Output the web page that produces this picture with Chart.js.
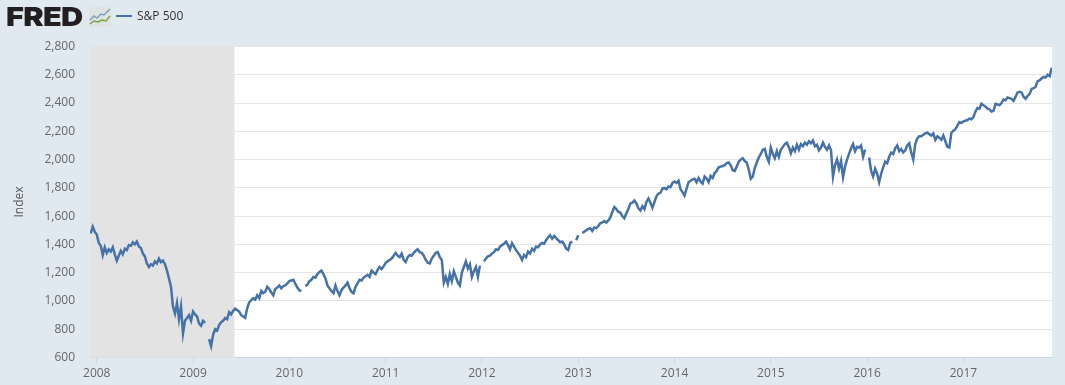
<!DOCTYPE html>
<html>
<head>
<meta charset="utf-8">
<title>S&amp;P 500</title>
<script src="https://cdn.jsdelivr.net/npm/chart.js@4"></script>
<style>
  html, body { margin: 0; padding: 0; background: #e1e9f0; overflow: hidden; }
  #wrap { position: relative; width: 1065px; height: 385px; }
  #logo { position: absolute; left: 6px; top: 1px; font: 900 26px/32px Inter, sans-serif; letter-spacing: -0.6px; color: #231f20; transform: scaleX(1.18); transform-origin: left center; }
  #icon { position: absolute; left: 89px; top: 7px; }
  #legendLine { position: absolute; left: 116px; top: 15px; width: 16px; height: 2px; background: #4572a7; }
  #legendText { position: absolute; left: 137px; top: 7px; font: 12px/18px "Open Sans", sans-serif; color: #333; }
</style>
</head>
<body>
<div id="wrap">
  <canvas id="grafico" width="1065" height="385"></canvas>
  <div id="logo">FRED</div>
  <svg id="icon" width="22" height="20" viewBox="0 0 22 20">
    <rect width="22" height="20" rx="2" fill="#dfe3e1"/>
    <polyline points="1,13 5,9 8,11 12,7 15,8 21,2" fill="none" stroke="#7e9fc0" stroke-width="1.5"/>
    <polyline points="1,17 5,14 9,15 13,13 17,14 21,9" fill="none" stroke="#7da24a" stroke-width="1.5"/>
  </svg>
  <div id="legendLine"></div>
  <div id="legendText">S&amp;P 500</div>
</div>
<script>
const serieNome = 'S&P 500';
const anoTicks = [2008, 2009, 2010, 2011, 2012, 2013, 2014, 2015, 2016, 2017];
const valorTicks = [600, 800, 1000, 1200, 1400, 1600, 1800, 2000, 2200, 2400, 2600, 2800];
const recessao = [2007.93, 2009.43];

// weekly-ish readings, 48 per year; null = hole in the line
const v2007 = [1478, 1525, 1490];
const v2008 = [1470, 1411, 1390, 1325, 1380, 1340, 1365, 1350, 1380, 1330, 1285, 1320, 1355, 1330, 1370, 1360, 1395, 1390, 1415, 1400, 1420, 1385, 1375, 1335, 1315, 1265, 1240, 1260, 1250, 1280, 1265, 1300, 1275, 1285, 1260, 1215, 1160, 1100, 960, 910, 985, 870, 960, 770, 860, 880, 900, 860];
const v2009 = [925, 905, 890, 840, 825, 860, 845, null, 730, 680, 760, 800, 790, 830, 850, 860, 880, 870, 920, 905, 930, 945, 935, 925, 900, 890, 880, 950, 990, 1005, 1020, 1010, 1040, 1020, 1070, 1055, 1065, 1100, 1085, 1060, 1040, 1085, 1095, 1110, 1090, 1105, 1110, 1125];
const v2010 = [1140, 1145, 1150, 1120, 1095, 1075, 1070, null, 1105, 1115, 1140, 1150, 1170, 1165, 1190, 1205, 1215, 1190, 1160, 1110, 1090, 1070, 1055, 1110, 1070, 1040, 1075, 1095, 1110, 1130, 1090, 1065, 1055, 1100, 1125, 1150, 1145, 1165, 1175, 1185, 1170, 1215, 1200, 1190, 1220, 1240, 1225, 1245];
const v2011 = [1270, 1280, 1290, 1300, 1320, 1340, 1320, 1310, 1335, 1290, 1275, 1310, 1325, 1320, 1340, 1355, 1365, 1345, 1340, 1320, 1290, 1270, 1265, 1300, 1320, 1340, 1345, 1310, 1290, 1130, 1170, 1120, 1190, 1140, 1210, 1170, 1130, 1110, 1200, 1240, 1280, 1230, 1260, 1170, 1210, 1240, 1170, 1250];
const v2012 = [null, 1280, 1300, 1315, 1320, 1335, 1345, 1365, 1360, 1385, 1395, 1405, 1420, 1395, 1365, 1410, 1385, 1360, 1340, 1320, 1290, 1325, 1310, 1350, 1335, 1370, 1355, 1385, 1380, 1400, 1410, 1405, 1430, 1450, 1465, 1440, 1460, 1445, 1430, 1415, 1420, 1400, 1370, 1360, 1410, 1420, null, 1430];
const v2013 = [1465, null, 1480, 1490, 1500, 1510, 1515, 1495, 1520, 1515, 1530, 1550, 1555, 1565, 1555, 1570, 1590, 1630, 1665, 1650, 1630, 1625, 1600, 1585, 1620, 1650, 1690, 1695, 1710, 1690, 1655, 1640, 1670, 1650, 1700, 1725, 1695, 1660, 1700, 1740, 1760, 1765, 1795, 1800, 1790, 1810, 1805, 1835];
const v2014 = [1845, 1835, 1850, 1790, 1770, 1745, 1795, 1840, 1850, 1860, 1865, 1840, 1870, 1845, 1830, 1880, 1865, 1840, 1885, 1870, 1905, 1920, 1945, 1950, 1955, 1960, 1975, 1980, 1960, 1925, 1920, 1950, 1985, 2000, 2010, 1990, 1980, 1930, 1865, 1880, 1940, 1980, 2015, 2040, 2070, 2075, 2020, 1985];
const v2015 = [2085, 2040, 2010, 2060, 2020, 2070, 2090, 2110, 2120, 2090, 2045, 2085, 2060, 2105, 2070, 2110, 2095, 2120, 2105, 2130, 2115, 2135, 2095, 2105, 2065, 2085, 2120, 2090, 2070, 2100, 2065, 1880, 1960, 2000, 1935, 1990, 1875, 1950, 2000, 2040, 2080, 2110, 2060, 2090, 2085, 2100, 2020, 2070];
const v2016 = [null, 2015, 1920, 1880, 1935, 1900, 1840, 1900, 1945, 1985, 1975, 2020, 2050, 2040, 2080, 2100, 2060, 2075, 2050, 2065, 2100, 2115, 2050, 2000, 2110, 2150, 2165, 2165, 2175, 2185, 2190, 2180, 2170, 2185, 2140, 2165, 2155, 2140, 2170, 2130, 2090, 2085, 2190, 2205, 2215, 2240, 2265, 2260];
const v2017 = [2270, 2275, 2280, 2290, 2285, 2300, 2340, 2365, 2360, 2395, 2385, 2375, 2360, 2355, 2340, 2345, 2395, 2390, 2385, 2400, 2425, 2420, 2440, 2435, 2430, 2415, 2445, 2475, 2480, 2475, 2445, 2430, 2450, 2465, 2500, 2505, 2515, 2555, 2560, 2575, 2585, 2580, 2600, 2590, 2650];

const anos = [[2007, v2007, 45], [2008, v2008, 0], [2009, v2009, 0], [2010, v2010, 0], [2011, v2011, 0], [2012, v2012, 0], [2013, v2013, 0], [2014, v2014, 0], [2015, v2015, 0], [2016, v2016, 0], [2017, v2017, 0]];

const pontos = [];
anos.forEach(([ano, valores, inicio]) => {
  valores.forEach((v, i) => pontos.push({ x: ano + (inicio + i) / 48, y: v }));
});

const fundoPlugin = {
  id: 'fundo',
  beforeDraw(c) {
    const a = c.chartArea;
    c.ctx.fillStyle = '#ffffff';
    c.ctx.fillRect(a.left, a.top, a.width, a.height);
  },
  beforeDatasetsDraw(c) {
    const a = c.chartArea;
    const x0 = c.scales.x.getPixelForValue(recessao[0]);
    const x1 = c.scales.x.getPixelForValue(recessao[1]);
    c.ctx.fillStyle = '#e3e3e3';
    c.ctx.fillRect(x0, a.top, x1 - x0, a.height);
  }
};

Chart.defaults.font.family = '"Open Sans", sans-serif';
Chart.defaults.font.size = 12;

new Chart(document.getElementById('grafico').getContext('2d'), {
  type: 'line',
  plugins: [fundoPlugin],
  data: {
    datasets: [{
      label: serieNome,
      data: pontos,
      borderColor: '#4572a7',
      borderWidth: 2.5,
      pointRadius: 0,
      tension: 0,
      spanGaps: false
    }]
  },
  options: {
    responsive: false,
    animation: false,
    parsing: { xAxisKey: 'x', yAxisKey: 'y' },
    layout: { padding: { top: 46.5, right: 13, bottom: 0, left: 0 } },
    plugins: { legend: { display: false }, tooltip: { enabled: false } },
    scales: {
      x: {
        type: 'linear',
        min: 2007.93,
        max: 2017.92,
        afterBuildTicks: s => { s.ticks = anoTicks.map(v => ({ value: v })); },
        afterFit: s => { s.height = 27.5; },
        grid: { drawOnChartArea: false, color: '#ccd6eb', tickLength: 6, drawTicks: true },
        border: { color: '#ccd6eb' },
        ticks: { color: '#666666', maxRotation: 0, autoSkip: false, padding: 3, callback: v => String(v) }
      },
      y: {
        min: 600,
        max: 2800,
        afterBuildTicks: s => { s.ticks = valorTicks.map(v => ({ value: v })); },
        afterFit: s => { s.width = 90; },
        grid: { color: '#e6e6e6', drawTicks: false },
        border: { display: false },
        ticks: { color: '#666666', padding: 15, callback: v => v.toLocaleString('en-US') },
        title: { display: true, text: 'Index', color: '#555555', font: { size: 12 }, padding: { top: 12, bottom: 0 } }
      }
    }
  }
});
</script>
</body>
</html>
